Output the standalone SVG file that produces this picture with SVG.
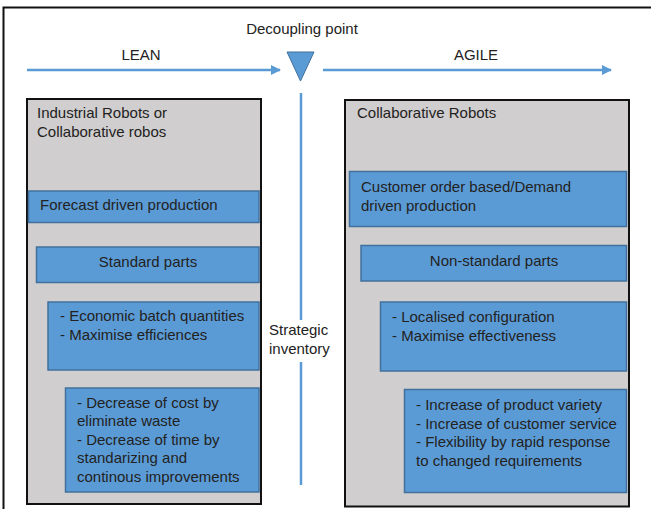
<svg xmlns="http://www.w3.org/2000/svg" width="651" height="509" viewBox="0 0 651 509">
<style>
text{font-family:"Liberation Sans",Arial,sans-serif;font-size:15px;fill:#222}
.panel{fill:#d0cece;stroke:#111;stroke-width:2}
.box{fill:#5b9bd5;stroke:#41719c;stroke-width:1.5}
.flow{stroke:#5b9bd5;stroke-width:2.5;fill:none}
.c{text-anchor:middle}
</style>
<defs>
<marker id="ah" viewBox="0 0 10 10" refX="9" refY="5" markerWidth="4" markerHeight="4" orient="auto" markerUnits="strokeWidth">
<path d="M0,0 L10,5 L0,10 z" fill="#5b9bd5"/>
</marker>
</defs>
<rect width="651" height="509" fill="#fff"/>
<path d="M3.5,509 V7.5 H651" fill="none" stroke="#111" stroke-width="2"/>
<g id="connectors">
<line class="flow" x1="27" y1="70" x2="280" y2="70" marker-end="url(#ah)"/>
<line class="flow" x1="323" y1="70" x2="611" y2="70" marker-end="url(#ah)"/>
<line class="flow" x1="301" y1="93" x2="301" y2="320"/>
<line class="flow" x1="301" y1="362" x2="301" y2="485"/>
</g>
<g id="decoupling">
<text class="c" x="302" y="34">Decoupling point</text>
<path d="M287,52 L314,52 L300.5,81 z" fill="#5b9bd5" stroke="#41719c" stroke-width="1"/>
</g>
<g id="lean-label"><text class="c" x="141" y="60">LEAN</text></g>
<g id="agile-label"><text class="c" x="476" y="60">AGILE</text></g>
<g id="strategic-inventory">
<text x="269" y="335">Strategic</text>
<text x="269" y="354">inventory</text>
</g>
<g id="lean-panel">
<rect class="panel" x="27" y="99" width="234" height="405"/>
<text x="37" y="118">Industrial Robots or</text>
<text x="37" y="137">Collaborative robos</text>
</g>
<g id="forecast">
<rect class="box" x="28.5" y="191" width="230.5" height="31.5"/>
<text x="40" y="210">Forecast driven production</text>
</g>
<g id="standard">
<rect class="box" x="36.5" y="247" width="222.5" height="35.5"/>
<text class="c" x="148" y="267">Standard parts</text>
</g>
<g id="economic">
<rect class="box" x="48" y="302" width="211" height="68"/>
<text x="60" y="321">- Economic batch quantities</text>
<text x="60" y="339.5">- Maximise efficiences</text>
</g>
<g id="decrease">
<rect class="box" x="65.5" y="388" width="193.5" height="104"/>
<text x="77" y="407.5">- Decrease of cost by</text>
<text x="77" y="426">eliminate waste</text>
<text x="77" y="444.5">- Decrease of time by</text>
<text x="77" y="463">standarizing and</text>
<text x="77" y="481.5">continous improvements</text>
</g>
<g id="agile-panel">
<rect class="panel" x="345" y="100" width="284" height="406.5"/>
<text x="357" y="118">Collaborative Robots</text>
</g>
<g id="customer">
<rect class="box" x="349.5" y="171.5" width="277" height="55"/>
<text x="361" y="192">Customer order based/Demand</text>
<text x="361" y="210.5">driven production</text>
</g>
<g id="nonstandard">
<rect class="box" x="361" y="245.5" width="265.5" height="35.5"/>
<text class="c" x="494" y="265.5">Non-standard parts</text>
</g>
<g id="localised">
<rect class="box" x="380.5" y="302" width="246" height="69"/>
<text x="392" y="322">- Localised configuration</text>
<text x="392" y="340.5">- Maximise effectiveness</text>
</g>
<g id="increase">
<rect class="box" x="404.5" y="389.5" width="222" height="103"/>
<text x="416" y="410">- Increase of product variety</text>
<text x="416" y="428.5">- Increase of customer service</text>
<text x="416" y="447">- Flexibility by rapid response</text>
<text x="416" y="466">to changed requirements</text>
</g>
</svg>
